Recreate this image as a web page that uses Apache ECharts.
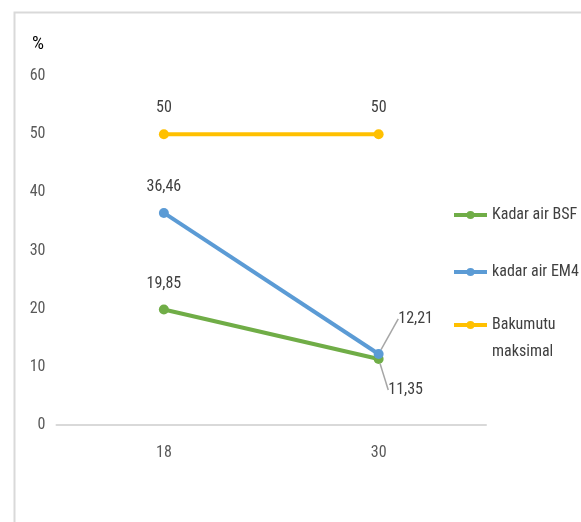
<!DOCTYPE html>
<html>
<head>
<meta charset="utf-8">
<script src="https://cdn.jsdelivr.net/npm/echarts@6/dist/echarts.min.js"></script>
<style>
  html, body { margin: 0; padding: 0; background: #fff; }
  #chart { width: 581px; height: 522px; }
</style>
</head>
<body>
<div id="chart"></div>
<script>
// Kadar air (moisture content, %) by day
const categories = ['18', '30'];
const kadarBSF = [19.85, 11.35];
const kadarEM4 = [36.46, 12.21];
const bakumutu = [50, 50];
const seriesNames = ['Kadar air BSF', 'kadar air EM4', 'Bakumutu maksimal'];

const FONT = "'Liberation Sans Narrow', 'Roboto Condensed', Roboto, 'Noto Sans', sans-serif";
const FS = 16;
const fmt = v => String(v).replace('.', ',');

const chart = echarts.init(document.getElementById('chart'), null, { renderer: 'canvas' });

// withLeader: data indexes whose label is pulled away and joined by a leader line
function lineSeries(name, values, color, z, withLeader) {
  return {
    name: name,
    type: 'line',
    z: z,
    data: values.map((v, i) => ({
      value: v,
      labelLine: { show: withLeader.indexOf(i) >= 0 }
    })),
    symbol: 'circle',
    symbolSize: 10,
    lineStyle: { width: 4, color: color },
    itemStyle: { color: color },
    label: {
      show: true,
      position: 'top',
      distance: 13,
      fontFamily: FONT,
      fontSize: FS,
      color: '#404040',
      formatter: p => fmt(p.value)
    },
    labelLine: { lineStyle: { color: '#a6a6a6', width: 1.5 } }
  };
}

const legendCommon = {
  orient: 'vertical',
  left: 452,
  padding: 0,
  itemWidth: 33,
  itemHeight: 10,
  itemStyle: { borderWidth: 0 },
  lineStyle: { width: 4 }
};
const legendText = { fontFamily: FONT, fontSize: FS, color: '#404040', lineHeight: 27 };

chart.setOption({
  animation: false,
  textStyle: { fontFamily: FONT },
  graphic: [{
    type: 'rect',
    shape: { x: 14.5, y: 12.5, width: 700, height: 700 },
    style: { fill: 'none', stroke: '#d9d9d9', lineWidth: 2 },
    silent: true
  }],
  title: {
    text: '%',
    left: 32,
    top: 35,
    padding: 0,
    textStyle: { fontFamily: FONT, fontSize: 19, fontWeight: 'normal', color: '#000' }
  },
  grid: { left: 56.5, right: 95, top: 76, bottom: 97 },
  legend: [
    Object.assign({}, legendCommon, {
      top: 201.5,
      itemGap: 30,
      data: seriesNames.slice(0, 2),
      textStyle: legendText
    }),
    // two-line entry: the first line sits level with its marker
    Object.assign({}, legendCommon, {
      top: 284.5,
      data: seriesNames.slice(2),
      formatter: name => '\n' + name.replace(' ', '\n'),
      textStyle: legendText
    })
  ],
  xAxis: {
    type: 'category',
    data: categories,
    boundaryGap: true,
    axisLine: { lineStyle: { color: '#d9d9d9', width: 2 } },
    axisTick: { show: false },
    axisLabel: { margin: 20, fontFamily: FONT, fontSize: FS, color: '#595959' }
  },
  yAxis: {
    type: 'value',
    min: 0,
    max: 60,
    interval: 10,
    splitLine: { show: false },
    axisLine: { show: false },
    axisTick: { show: false },
    axisLabel: { margin: 11, fontFamily: FONT, fontSize: FS, color: '#595959' }
  },
  series: [
    lineSeries(seriesNames[0], kadarBSF, '#70ad47', 3, [1]),
    lineSeries(seriesNames[1], kadarEM4, '#5b9bd5', 4, [1]),
    lineSeries(seriesNames[2], bakumutu, '#ffc000', 5, [])
  ],
  labelLayout: function (p) {
    // Last points sit close together: push their labels out to the side
    if (p.dataIndex === 1 && p.seriesIndex === 1) {
      return { dx: 37, dy: -9 };
    }
    if (p.dataIndex === 1 && p.seriesIndex === 0) {
      return { dx: 27, dy: 57 };
    }
    return {};
  }
});
</script>
</body>
</html>
